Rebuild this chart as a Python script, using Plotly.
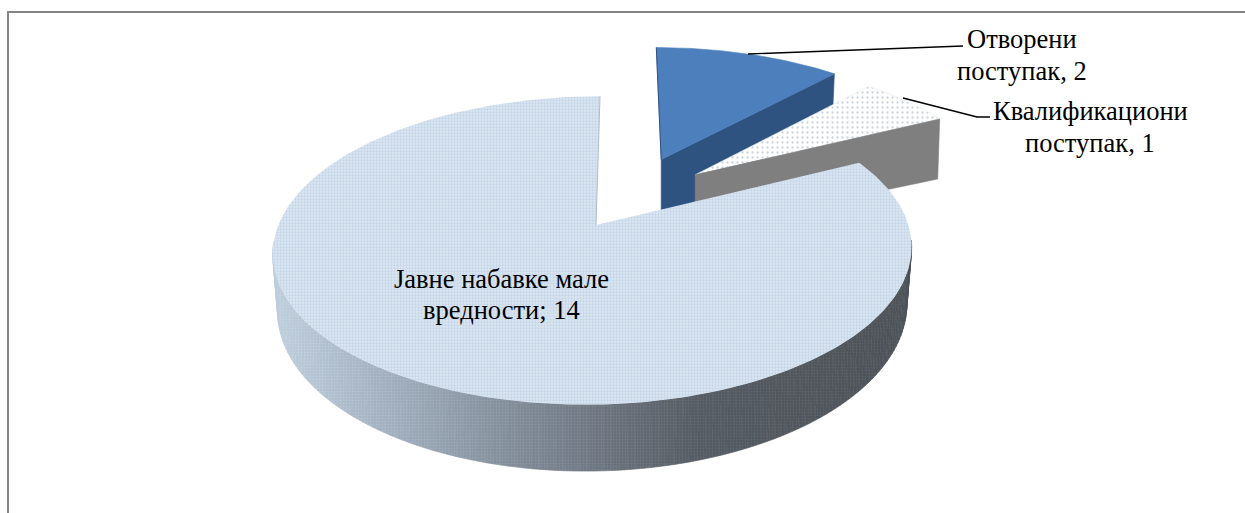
import math
import plotly.graph_objects as go

categories = ["Јавне набавке мале вредности", "Отворени поступак", "Квалификациони поступак"]
values = [14, 2, 1]
label_lines = [["Јавне набавке мале", "вредности; 14"], ["Отворени", "поступак, 2"], ["Квалификациони", "поступак, 1"]]

# view of the tilted pie (pixels of the 1245x513 page)
X0, Y0, AX, SX, KY, P = 596, 225, 315, 4.7, 150, 0.165
PULL = [(0, 0), (0.216, 0.47), (0.328, 0.354)]
BOTTOM_SHRINK = 0.985

total = sum(values)
sweep = [v / total * 360 for v in values]
b_start, b_end = 0, sweep[1]
d_start, d_end = b_end, b_end + sweep[2]
m_start, m_end = d_end, 360


def project(u, v):
    den = 1 + P * v
    return X0 + (AX * u + SX * v) / den, Y0 - KY * v / den, den


def rim(a, pull, lean=0.0):
    r = math.radians(a)
    x, y, d = project(math.sin(r) + pull[0], math.cos(r) + pull[1])
    return x - lean * (1 - math.cos(r)), y, d


def arc(a0, a1, pull, n=90, lean=0.0):
    return [rim(a0 + (a1 - a0) * i / n, pull, lean)[:2] for i in range(n + 1)]


def lerp_color(x):
    stops = [(273, (190, 205, 219)), (400, (156, 170, 185)), (590, (110, 118, 129)),
             (700, (84, 90, 97)), (912, (74, 80, 85))]
    x = max(273, min(912, x))
    for (x1, c1), (x2, c2) in zip(stops, stops[1:]):
        if x <= x2:
            t = (x - x1) / (x2 - x1)
            return tuple(round(a + (b - a) * t) for a, b in zip(c1, c2))
    return stops[-1][1]


fig = go.Figure()


def poly(pts, fill, pattern=None, line=None, name=None):
    xs = [p[0] for p in pts] + [pts[0][0]]
    ys = [p[1] for p in pts] + [pts[0][1]]
    kw = {}
    if pattern:
        kw["fillpattern"] = pattern
    fig.add_trace(go.Scatter(x=xs, y=ys, mode="lines", fill="toself", fillcolor=fill,
                             line=dict(color=line or fill, width=0.6 if line else 0),
                             hoverinfo="skip", showlegend=False, name=name, **kw))


def wall(top_a, top_b, depth_a, depth_b, color):
    poly([top_a, top_b, (top_b[0] - 2, top_b[1] + depth_b), (top_a[0], top_a[1] + depth_a)], color, line=color)


# blue slice: its wall runs on behind the dotted and main slices
apex_b = project(*PULL[1])[:2]
corner_b = rim(b_end, PULL[1])[:2]
wall(apex_b, corner_b, 62, 45, "#2f5381")
poly([apex_b] + arc(b_start, b_end, PULL[1]), "#4c7fbc", line="#4c7fbc", name=categories[1])
b_top = rim(b_start, PULL[1])
fig.add_trace(go.Scatter(x=[apex_b[0], b_top[0]], y=[apex_b[1], b_top[1]], mode="lines",
                         line=dict(color="#2f5381", width=1), hoverinfo="skip", showlegend=False))

# dotted slice
apex_d = project(*PULL[2])[:2]
corner_d = rim(d_end, PULL[2])[:2]
poly([apex_d] + arc(d_start, d_end, PULL[2]), "#f6f8fa", line="#e4e9ee",
     pattern=dict(shape=".", size=5, solidity=0.16, fgcolor="#93a5b7", bgcolor="#ffffff"), name=categories[2])
wall(apex_d, corner_d, 55, 60, "#7f7f7f")

# main slice: outer wall in strips, darkening to the right
LEAN = 2.6
N = 240
for i in range(N):
    a0 = m_start + (m_end - m_start) * i / N
    a1 = m_start + (m_end - m_start) * (i + 1) / N
    if not (math.cos(math.radians((a0 + a1) / 2)) < -0.1):
        continue
    x0, y0, d0 = rim(a0, PULL[0], LEAN)
    x1, y1, d1 = rim(a1, PULL[0], LEAN)
    bx = lambda x: X0 + (x - X0) * BOTTOM_SHRINK
    pts = [(x0, y0), (x1, y1), (bx(x1), y1 + 55.5 / d1), (bx(x0), y0 + 55.5 / d0)]
    r, g, b = lerp_color((x0 + x1) / 2)
    col = "rgb(%d,%d,%d)" % (r, g, b)
    hi = "rgb(%d,%d,%d)" % (min(r + 26, 255), min(g + 26, 255), min(b + 26, 255))
    poly(pts, col, line=col, pattern=dict(shape=".", size=3, solidity=0.3, fgcolor=hi, bgcolor=col))

apex_m = project(*PULL[0])[:2]
poly([apex_m] + arc(m_start, m_end, PULL[0], 300, LEAN), "#cddbeb",
     pattern=dict(shape=".", size=3, solidity=0.45, fgcolor="#afc4dc", bgcolor="#dbe6f2"), name=categories[0])
edge = rim(m_end, PULL[0], LEAN)
fig.add_trace(go.Scatter(x=[apex_m[0], edge[0]], y=[apex_m[1], edge[1]], mode="lines",
                         line=dict(color="#aebccb", width=1), hoverinfo="skip", showlegend=False))

# leader lines
fig.add_trace(go.Scatter(x=[748, 950, 963], y=[54, 46, 46], mode="lines",
                         line=dict(color="#000000", width=1.4), hoverinfo="skip", showlegend=False))
fig.add_trace(go.Scatter(x=[903, 977, 990], y=[98, 117, 117], mode="lines",
                         line=dict(color="#000000", width=1.4), hoverinfo="skip", showlegend=False))

for lines, x, ys in zip(label_lines, [501, 1022, 1090], [(279, 310), (39, 71), (111, 143)]):
    for text, y in zip(lines, ys):
        fig.add_annotation(x=x, y=y, text=text, showarrow=False, align="center", xanchor="center", yanchor="middle",
                           font=dict(family="Liberation Serif", size=26.5, color="#000000"))

fig.update_layout(
    width=1245, height=513, margin=dict(l=0, r=0, t=0, b=0),
    paper_bgcolor="#ffffff", plot_bgcolor="#ffffff", showlegend=False,
    xaxis=dict(range=[0, 1245], visible=False, fixedrange=True),
    yaxis=dict(range=[513, 0], visible=False, fixedrange=True),
    shapes=[
        dict(type="line", xref="x", yref="y", x0=8, x1=8, y0=12, y1=513, line=dict(color="#858585", width=2)),
        dict(type="line", xref="x", yref="y", x0=7, x1=1245, y0=12, y1=12, line=dict(color="#858585", width=2)),
    ],
)
fig.write_html("out.html", config=dict(displayModeBar=False),
               post_script="document.body.style.margin='0';document.body.style.overflow='hidden';")
